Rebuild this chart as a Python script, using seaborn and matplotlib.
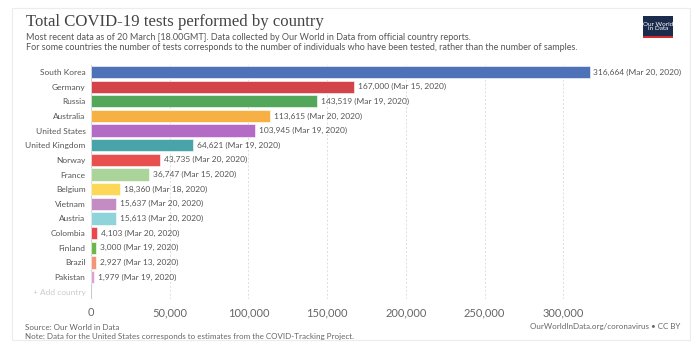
import matplotlib
matplotlib.use("Agg")
import matplotlib.pyplot as plt
import seaborn as sns
import pandas as pd
from matplotlib.patches import Rectangle

countries = ["South Korea", "Germany", "Russia", "Australia", "United States",
             "United Kingdom", "Norway", "France", "Belgium", "Vietnam", "Austria",
             "Colombia", "Finland", "Brazil", "Pakistan"]
tests = [316664, 167000, 143519, 113615, 103945, 64621, 43735, 36747, 18360,
         15637, 15613, 4103, 3000, 2927, 1979]
dates = ["Mar 20, 2020", "Mar 15, 2020", "Mar 19, 2020", "Mar 20, 2020", "Mar 19, 2020",
         "Mar 19, 2020", "Mar 20, 2020", "Mar 15, 2020", "Mar 18, 2020", "Mar 20, 2020",
         "Mar 20, 2020", "Mar 20, 2020", "Mar 19, 2020", "Mar 13, 2020", "Mar 19, 2020"]
colors = ["#4E72B8", "#D2434A", "#52A75A", "#F6B043", "#B46BC6", "#48A4A8", "#E8504F",
          "#ABD49A", "#FDD858", "#C38CC2", "#8FD4DA", "#E84A4B", "#6AB84B", "#F4957A",
          "#DCA2D6"]
xticks = [0, 50000, 100000, 150000, 200000, 250000, 300000]

sns.set_style("white")
plt.rcParams['font.family'] = ['Lato', 'DejaVu Sans']

df = pd.DataFrame({"country": countries, "tests": tests})

fig = plt.figure(figsize=(7, 3.44), dpi=100)
# outer frame
fig.patches.append(Rectangle((12/700, 4/344), 678/700, 332/344, transform=fig.transFigure,
                             fill=False, edgecolor="#ececec", lw=0.8))

ax = fig.add_axes([91/700, 1 - 299/344, 540/700, (299 - 64.7)/344])
sns.barplot(data=df, y="country", x="tests", hue="country", palette=colors,
            legend=False, ax=ax, width=0.84, orient="h", saturation=1,
            edgecolor="white", linewidth=0.4)

ax.set_xlim(0, 343000)
ax.set_ylim(15.5, -0.5)
ax.set_yticks(range(16))
ax.set_yticklabels(countries + ["+ Add country"])
for lbl in ax.get_yticklabels():
    lbl.set_color("#555555")
ax.get_yticklabels()[-1].set_color("#cccccc")
ax.tick_params(axis="y", length=0, pad=4, labelsize=6.0)
ax.set_xticks(xticks)
ax.set_xticklabels([f"{t:,}" for t in xticks])
ax.tick_params(axis="x", length=0, pad=6, labelsize=8, labelcolor="#666666")
ax.set_xlabel("")
ax.set_ylabel("")
for s in ax.spines.values():
    s.set_visible(False)
for t in xticks[1:]:
    ax.axvline(t, color="#dddddd", lw=0.7, ls=(0, (2, 2)), zorder=0)
ax.axvline(0, color="#cccccc", lw=0.8, zorder=0)

for i, (v, d) in enumerate(zip(tests, dates)):
    ax.text(v + 2500, i, f"{v:,} ({d})", va="center", ha="left", fontsize=6.0,
            color="#555555")

fig.text(26/700, 1 - 22/344, "Total COVID-19 tests performed by country",
         family=["Liberation Serif", "DejaVu Serif"], fontsize=12.1, color="#444444",
         va="center", ha="left")
fig.text(26/700, 1 - 38/344,
         "Most recent data as of 20 March [18.00GMT]. Data collected by Our World in Data from official country reports.",
         fontsize=6.5, color="#555555", va="center", ha="left")
fig.text(26/700, 1 - 48/344,
         "For some countries the number of tests corresponds to the number of individuals who have been tested, rather than the number of samples.",
         fontsize=6.5, color="#555555", va="center", ha="left")

fig.text(25/700, 1 - 327/344, "Source: Our World in Data", fontsize=5.8,
         color="#666666", va="center", ha="left")
fig.text(25/700, 1 - 337/344,
         "Note: Data for the United States corresponds to estimates from the COVID-Tracking Project.",
         fontsize=5.8, color="#666666", va="center", ha="left")
fig.text(680/700, 1 - 327/344, "OurWorldInData.org/coronavirus \u2022 CC BY",
         fontsize=5.8, color="#666666", va="center", ha="right")

# logo
fig.patches.append(Rectangle((643/700, 1 - 38/344), 30/700, 22/344,
                             transform=fig.transFigure, facecolor="#1A2B4C",
                             edgecolor="none"))
fig.patches.append(Rectangle((643/700, 1 - 38/344), 30/700, 1.8/344,
                             transform=fig.transFigure, facecolor="#D42B2B",
                             edgecolor="none"))
fig.text(658/700, 1 - 26.5/344, "Our World\nin Data", fontsize=4.6, color="white",
         ha="center", va="center", linespacing=1.0)

fig.savefig("out.png", dpi=100, facecolor="white")
